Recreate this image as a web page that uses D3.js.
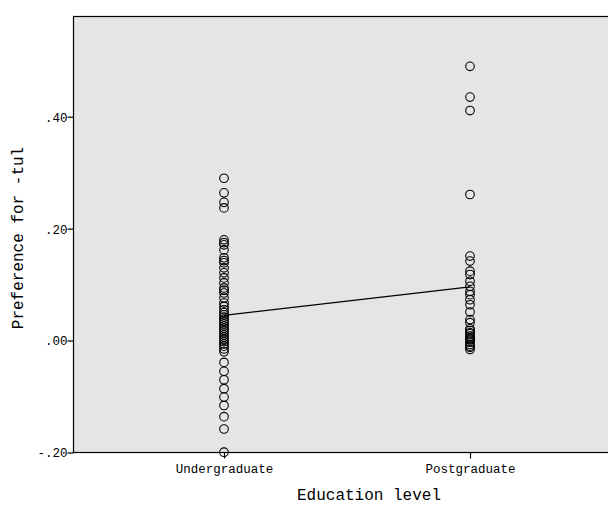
<!DOCTYPE html>
<html><head><meta charset="utf-8">
<script src="https://cdn.jsdelivr.net/npm/d3@7/dist/d3.min.js"></script>
<style>body{margin:0;background:#fff}svg{display:block}</style>
</head><body>
<svg id="c" width="608" height="507"></svg>
<script>
const categories = ["Undergraduate", "Postgraduate"];
const undergradValues = [0.290, 0.264, 0.247, 0.237, 0.180, 0.175, 0.171, 0.162, 0.148, 0.143, 0.139, 0.130,
  0.121, 0.112, 0.103, 0.094, 0.090, 0.085, 0.076, 0.067, 0.061, 0.055, 0.050, 0.046, 0.042, 0.038, 0.034,
  0.030, 0.026, 0.022, 0.018, 0.014, 0.010, 0.006, 0.002, -0.002, -0.006, -0.010, -0.015, -0.020,
  -0.039, -0.055, -0.070, -0.086, -0.101, -0.116, -0.136, -0.158, -0.1995];
const postgradValues = [0.490, 0.435, 0.411, 0.261, 0.151, 0.142, 0.124, 0.118, 0.106, 0.097, 0.088, 0.082,
  0.073, 0.064, 0.051, 0.0375, 0.032, 0.021, 0.018, 0.014, 0.012, 0.008, 0.005, 0.003, 0.001, -0.003,
  -0.007, -0.010, -0.012, -0.016];
const meanValues = [0.045, 0.096];
const yTicks = [-0.20, 0.00, 0.20, 0.40];
const yTickLabels = ["-.20", ".00", ".20", ".40"];

(function () {
const svg = d3.select("#c");
const mLeft = 73.5, mTop = 16.5, mBottom = 452.5, mRight = 640;
const font = "'Liberation Mono', 'Courier New', monospace";

const x = d3.scalePoint().domain(categories).range([224, 470]);
const y = d3.scaleLinear().domain([-0.20, 0.40]).range([mBottom, 116.7]);

svg.append("rect").attr("x", mLeft).attr("y", mTop).attr("width", mRight - mLeft).attr("height", mBottom - mTop)
  .attr("fill", "#e5e5e5").attr("stroke", "#000").attr("stroke-width", 1.2);

const yAxis = d3.axisLeft(y).tickValues(yTicks).tickFormat((d, i) => yTickLabels[i]).tickSize(6).tickSizeOuter(0);
const gy = svg.append("g").attr("transform", `translate(${mLeft},0)`).call(yAxis);
gy.select(".domain").remove();
gy.selectAll("line").attr("stroke", "#000").attr("stroke-width", 1.2);
gy.selectAll("text").attr("font-family", font).attr("font-size", 12.5).attr("fill", "#000").attr("x", -6).attr("dy", "0.35em");

const xAxis = d3.axisBottom(x).tickSize(6).tickSizeOuter(0);
const gx = svg.append("g").attr("transform", `translate(0,${mBottom})`).call(xAxis);
gx.select(".domain").remove();
gx.selectAll("line").attr("stroke", "#000").attr("stroke-width", 1.2);
gx.selectAll("text").attr("font-family", font).attr("font-size", 12.5).attr("fill", "#000").attr("y", 12).attr("dy", "0.71em");

const groups = [undergradValues, postgradValues];
groups.forEach((vals, gi) => {
  svg.append("g").selectAll("circle").data(vals).join("circle")
    .attr("cx", x(categories[gi])).attr("cy", d => y(d)).attr("r", 4.3)
    .attr("fill", "none").attr("stroke", "#000").attr("stroke-width", 1.1);
});

svg.append("path").datum(meanValues.map((m, i) => [x(categories[i]), y(m)]))
  .attr("d", d3.line()).attr("stroke", "#000").attr("stroke-width", 1.3).attr("fill", "none");

svg.append("text").attr("x", 369).attr("y", 500).attr("text-anchor", "middle")
  .attr("font-family", font).attr("font-size", 16).text("Education level");
svg.append("text").attr("transform", "translate(23,238) rotate(-90)").attr("text-anchor", "middle")
  .attr("font-family", font).attr("font-size", 16).text("Preference for -tul");
})();
</script>
</body></html>
